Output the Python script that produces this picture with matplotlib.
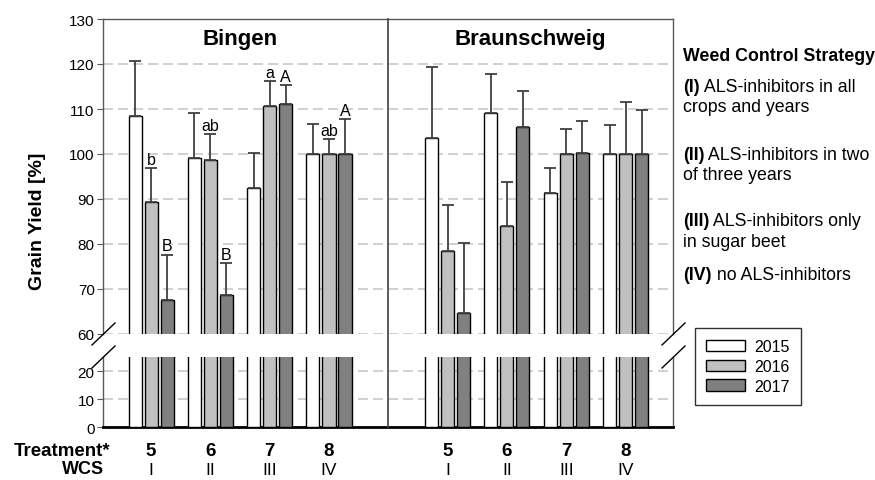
import numpy as np
import matplotlib
matplotlib.use("Agg")
import matplotlib.pyplot as plt
from matplotlib.patches import Patch
from matplotlib.lines import Line2D
import matplotlib.transforms as mtransforms

plt.rcParams['font.family'] = ['Liberation Sans', 'DejaVu Sans']
plt.rcParams['font.size'] = 11

# data
treatments = ['5', '6', '7', '8']
wcs = ['I', 'II', 'III', 'IV']
years = ['2015', '2016', '2017']
sites = ['Bingen', 'Braunschweig']

bingen_2015 = [108.4, 99.1, 92.4, 100.0]
bingen_2016 = [89.3, 98.7, 110.7, 100.0]
bingen_2017 = [67.5, 68.7, 111.1, 100.0]
bingen_sd_2015 = [12.3, 10.0, 7.8, 6.7]
bingen_sd_2016 = [7.6, 5.7, 5.5, 3.3]
bingen_sd_2017 = [10.1, 7.1, 4.2, 7.8]
bingen_letters_2016 = ['b', 'ab', 'a', 'ab']
bingen_letters_2017 = ['B', 'B', 'A', 'A']

braun_2015 = [103.6, 109.1, 91.4, 100.0]
braun_2016 = [78.4, 84.0, 100.1, 100.0]
braun_2017 = [64.6, 106.0, 100.3, 100.0]
braun_sd_2015 = [15.8, 8.7, 5.5, 6.4]
braun_sd_2016 = [10.3, 9.8, 5.5, 11.5]
braun_sd_2017 = [15.6, 8.0, 7.0, 9.8]

strategy_lines = [
    ('(I)', ' ALS-inhibitors in all', 'crops and years'),
    ('(II)', ' ALS-inhibitors in two', 'of three years'),
    ('(III)', ' ALS-inhibitors only', 'in sugar beet'),
    ('(IV)', ' no ALS-inhibitors', None),
]

colors = ['white', '#c0c0c0', '#808080']
W, H = 875, 481


def fx(px):
    return px / W


def fy(py):
    return 1 - py / H


fig = plt.figure(figsize=(8.75, 4.81), dpi=100)
ax_up = fig.add_axes([fx(103), fy(335), fx(673) - fx(103), fy(20) - fy(335)])
ax_lo = fig.add_axes([fx(103), fy(428), fx(673) - fx(103), fy(358) - fy(428)])

group_x = np.array([0, 1, 2, 3, 5, 6, 7, 8], dtype=float)
means = [bingen_2015 + braun_2015, bingen_2016 + braun_2016, bingen_2017 + braun_2017]
sds = [bingen_sd_2015 + braun_sd_2015, bingen_sd_2016 + braun_sd_2016,
       bingen_sd_2017 + braun_sd_2017]
offs = [-0.27, 0.0, 0.27]
bw = 0.22

for ax in (ax_up, ax_lo):
    for i in range(3):
        ax.bar(group_x + offs[i], means[i], width=bw, color=colors[i],
               edgecolor='black', linewidth=1, zorder=3)
        ax.errorbar(group_x + offs[i], means[i],
                    yerr=[np.zeros(len(sds[i])), sds[i]], fmt='none',
                    ecolor='#404040', elinewidth=1.3, capsize=4.5,
                    capthick=1.3, zorder=4)
    ax.set_xlim(-0.81, 8.80)
    ax.set_xticks([])
    ax.yaxis.grid(True, color='#c8c8c8', linestyle=(0, (6, 3)), linewidth=1.2)
    ax.set_axisbelow(True)
    ax.tick_params(axis='y', length=4, color='#595959', labelsize=11, pad=2)
    for s in ax.spines.values():
        s.set_color('#595959')
        s.set_linewidth(1)

ax_up.set_ylim(60, 130)
ax_up.set_yticks(np.arange(60, 131, 10))
ax_up.spines['bottom'].set_visible(False)
ax_lo.set_ylim(0, 25)
ax_lo.set_yticks([0, 10, 20])
ax_lo.spines['top'].set_visible(False)
ax_lo.spines['bottom'].set_color('black')
ax_lo.spines['bottom'].set_linewidth(2)

# significance letters
for i, (lst, k) in enumerate([(bingen_letters_2016, 1), (bingen_letters_2017, 2)]):
    for j, lab in enumerate(lst):
        ax_up.annotate(lab, (group_x[j] + offs[k], means[k][j] + sds[k][j]),
                       xytext=(0, 1), textcoords='offset points',
                       ha='center', va='bottom', fontsize=11.5, zorder=5)

# site titles and divider
blend = mtransforms.blended_transform_factory(ax_up.transData, fig.transFigure)
ax_up.text(1.5, fy(40), sites[0], transform=blend, ha='center', va='center',
           fontsize=16, fontweight='bold')
ax_up.text(6.4, fy(40), sites[1], transform=blend, ha='center', va='center',
           fontsize=16, fontweight='bold')
fig.add_artist(Line2D([4, 4], [fy(20), fy(428)], transform=blend,
                      color='#404040', linewidth=1.2))

# break marks
for x0 in (92, 662):
    fig.add_artist(Line2D([fx(x0), fx(x0 + 23)], [fy(346), fy(324)], color='black', lw=1))
    fig.add_artist(Line2D([fx(x0), fx(x0 + 23)], [fy(369), fy(347)], color='black', lw=1))

# y label
fig.text(fx(38), fy(221), 'Grain Yield [%]', rotation=90, ha='center', va='center',
         fontsize=14, fontweight='bold')

# bottom labels
fig.text(fx(110), fy(452), 'Treatment*', ha='right', va='center', fontsize=13.5,
         fontweight='bold')
fig.text(fx(104), fy(470), 'WCS', ha='right', va='center', fontsize=13,
         fontweight='bold')
for j, gx in enumerate(group_x):
    ax_lo.text(gx, fy(452), treatments[j % 4], transform=blend, ha='center',
               va='center', fontsize=13.5, fontweight='bold')
    ax_lo.text(gx, fy(471), wcs[j % 4], transform=blend, ha='center',
               va='center', fontsize=12.5)

# strategy description
fig.text(fx(683), fy(57), 'Weed Control Strategy', ha='left', va='center',
         fontsize=12.8, fontweight='bold')
ys = [87, 155, 222, 276]
for (b, rest, second), y in zip(strategy_lines, ys):
    t = fig.text(fx(683), fy(y), b, ha='left', va='center', fontsize=12.8,
                 fontweight='bold')
    fig.add_artist(matplotlib.text.Annotation(rest, xy=(1, 0.5), xycoords=t,
                                              ha='left', va='center', fontsize=12.8))
    if second:
        fig.text(fx(683), fy(y + 21), second, ha='left', va='center', fontsize=12.8)

# legend
handles = [Patch(facecolor=c, edgecolor='black', linewidth=1) for c in colors]
leg = fig.legend(handles, years, loc='upper left',
                 bbox_to_anchor=(fx(695), fy(329)), frameon=True, fancybox=False,
                 edgecolor='black', fontsize=11.5, handlelength=2.4,
                 handleheight=0.75, labelspacing=0.3, borderpad=0.7,
                 handletextpad=0.6, borderaxespad=0)
leg.get_frame().set_linewidth(1)

fig.savefig('out.png', dpi=100)
